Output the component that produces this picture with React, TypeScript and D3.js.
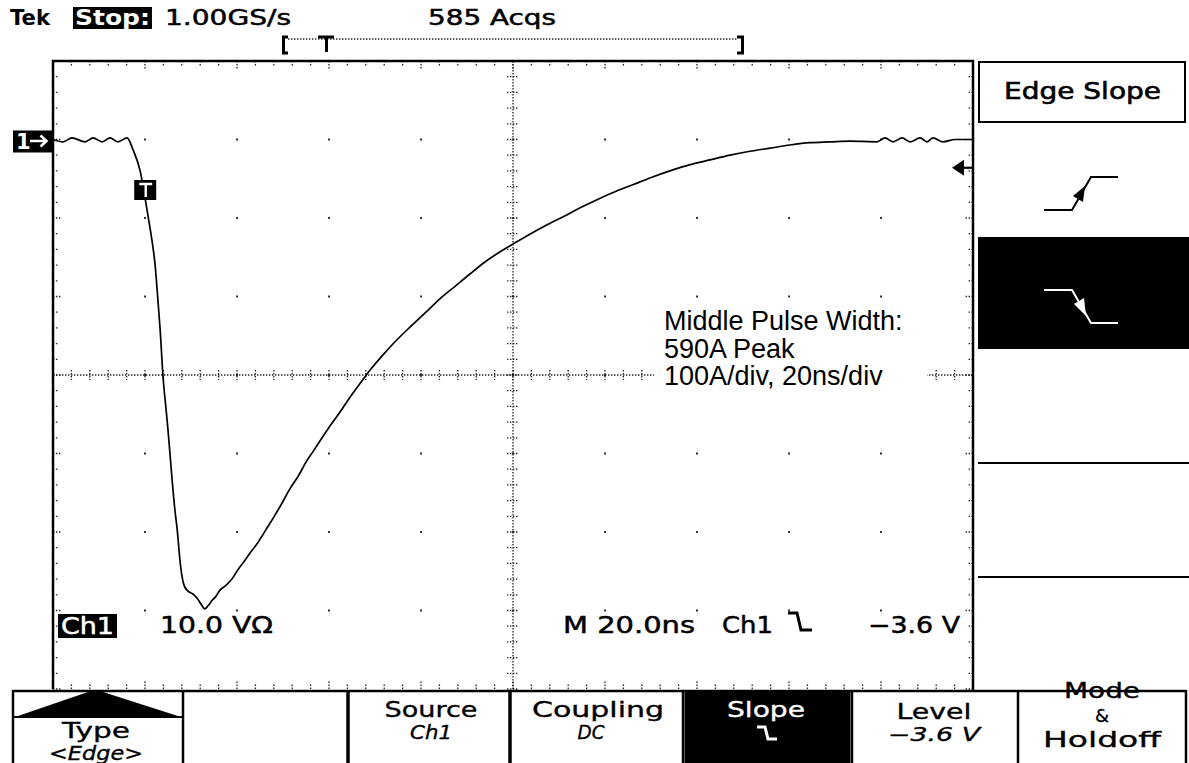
import React from "react";
import * as d3 from "d3";

// ---- Data ----
const timeNs = [0, 2.2, 4.1, 7.0, 8.7, 10.7, 12.4, 14.1, 16.1, 17.4, 18.9, 20.7, 21.5, 22.2, 22.8, 23.3, 23.9, 24.6, 25.0, 25.9, 26.5, 27.0, 27.6, 28.0, 28.5, 29.3, 30.4, 31.3, 32.2, 33.0, 33.7, 34.6, 35.4, 36.3, 37.6, 38.9, 40.2, 41.5, 42.8, 44.6, 46.3, 48.0, 49.8, 51.5, 53.3, 55.0, 56.7, 58.5, 60.2, 62.4, 64.6, 66.7, 68.9, 71.5, 74.3, 77.6, 80.9, 84.1, 87.4, 90.7, 93.9, 97.2, 100.0, 103.3, 107.0, 110.7, 114.6, 118.5, 122.4, 126.3, 130.2, 134.1, 138.5, 142.8, 147.2, 151.5, 155.9, 160.2, 164.6, 168.9, 173.3, 179.1, 180.9, 182.6, 184.6, 186.3, 188.5, 190.0, 191.3, 193.5, 196.1, 200];
const currentA = [0, -3, 2, -3, 2, -3, 2, -3, 2, -13, -39, -99, -128, -160, -204, -243, -301, -345, -370, -434, -472, -497, -536, -555, -568, -575, -579, -584, -592, -598, -594, -587, -582, -574, -568, -560, -548, -538, -527, -513, -497, -481, -463, -445, -429, -411, -396, -380, -365, -347, -328, -311, -294, -276, -258, -239, -221, -203, -187, -171, -156, -143, -133, -122, -110, -99, -87, -76, -66, -57, -48, -40, -32, -26, -20, -15, -11, -7, -4, -3, -2, -3, 2, -3, 2, -3, 2, -3, 2, -3, 0, 0];

const timeDomain = [0, 200]; // ns, 20 ns/div
const currentDomain = [-700, 100]; // A, 100 A/div
const triggerLevelA = -36; // -3.6 V at 10 V/div -> 0.36 div
const triggerTimeNs = 20.7;

const headerTexts = ["Tek", "Stop:", "1.00GS/s", "585 Acqs"];
const annotationLines = ["Middle Pulse Width:", "590A Peak", "100A/div, 20ns/div"];
const menuTop = ["Type", "", "Source", "Coupling", "Slope", "Level", "Mode"];
const menuBottom = ["<Edge>", "", "Ch1", "DC", "", "\u22123.6 V", "Holdoff"];

const W = 1189;
const H = 763;
const L = 53, R = 973, T = 61, B = 689;
const tek = "'DejaVu Sans', sans-serif";

export default function App() {
  const x = d3.scaleLinear().domain(timeDomain).range([L, R]);
  const y = d3.scaleLinear().domain(currentDomain).range([B, T]);
  const pts = timeNs.map((t, i) => [t, currentA[i]] as [number, number]);
  const line = d3.line<[number, number]>().x(d => x(d[0])).y(d => y(d[1])).curve(d3.curveMonotoneX);

  const majX = d3.range(timeDomain[0], timeDomain[1] + 0.01, 20);
  const minX = d3.range(timeDomain[0], timeDomain[1] + 0.01, 4);
  const majY = d3.range(currentDomain[0], currentDomain[1] + 0.01, 100);
  const minY = d3.range(currentDomain[0], currentDomain[1] + 0.01, 20);
  const cx = x(100);
  const cy = y(-300);
  const dot = { stroke: "#222", strokeWidth: 1.3, strokeDasharray: "1.4 1.6" } as any;

  const y0 = y(0);
  const yTrig = y(triggerLevelA);
  const xT = x(triggerTimeNs);

  const menuEdges = [13, 183, 348, 510, 683, 852, 1018, 1186];
  const mt = { fontFamily: tek, stroke: "#000", strokeWidth: 0.35, lengthAdjust: "spacingAndGlyphs", textAnchor: "middle" } as any;

  return (
    <svg width={W} height={H} style={{ position: "absolute", left: 0, top: 0, background: "#fff" }}>
      <rect x={0} y={0} width={W} height={H} fill="#fff" />
      {/* Header */}
      <text x={10} y={25} fontFamily={tek} fontSize={21} fontWeight="bold" textLength={40} lengthAdjust="spacingAndGlyphs">{headerTexts[0]}</text>
      <rect x={73} y={7} width={79} height={22} fill="#000" />
      <text x={75} y={25} fontFamily={tek} fontSize={21} fontWeight="bold" fill="#fff" textLength={75} lengthAdjust="spacingAndGlyphs">{headerTexts[1]}</text>
      <text x={165} y={25} fontFamily={tek} fontSize={21} textLength={126} lengthAdjust="spacingAndGlyphs" stroke="#000" strokeWidth={0.5}>{headerTexts[2]}</text>
      <text x={428} y={25} fontFamily={tek} fontSize={21} textLength={128} lengthAdjust="spacingAndGlyphs" stroke="#000" strokeWidth={0.5}>{headerTexts[3]}</text>

      {/* record bracket */}
      <path d="M288,37 H283.5 V53 H288" fill="none" stroke="#000" strokeWidth={3} />
      <path d="M737,37 H742.5 V53 H737" fill="none" stroke="#000" strokeWidth={3} />
      <line x1={288} x2={737} y1={39} y2={39} {...dot} />
      <path d="M318,37 H334 M326.5,36 V52" fill="none" stroke="#000" strokeWidth={3} />

      {/* Grid: interior major dots */}
      {majX.slice(1, -1).map(tx => majY.slice(1, -1).map(ty => (
        <rect key={`d${tx}_${ty}`} x={x(tx) - 1} y={y(ty) - 1} width={2} height={2} fill="#333" />
      )))}
      {/* center cross */}
      <line x1={L} x2={R} y1={cy} y2={cy} {...dot} />
      <line x1={cx} x2={cx} y1={T} y2={B} {...dot} />
      {minX.map(tx => <line key={`cxm${tx}`} x1={x(tx)} x2={x(tx)} y1={cy - 5} y2={cy + 5} {...dot} />)}
      {minY.map(ty => <line key={`cym${ty}`} y1={y(ty)} y2={y(ty)} x1={cx - 6} x2={cx + 6} {...dot} />)}
      {/* border ticks */}
      {minX.map(tx => {
        const major = Math.abs((tx % 20)) < 0.01;
        const len = major ? 8 : 5;
        return (
          <g key={`bx${tx}`}>
            <line x1={x(tx)} x2={x(tx)} y1={T} y2={T + len} {...dot} />
            <line x1={x(tx)} x2={x(tx)} y1={B} y2={B - len} {...dot} />
          </g>
        );
      })}
      {minY.map(ty => {
        const major = Math.abs((ty % 100)) < 0.01;
        const len = major ? 9 : 6;
        return (
          <g key={`by${ty}`}>
            <line y1={y(ty)} y2={y(ty)} x1={L} x2={L + len} {...dot} />
            <line y1={y(ty)} y2={y(ty)} x1={R} x2={R - len} {...dot} />
          </g>
        );
      })}

      {/* annotation box hides grid */}
      <rect x={654} y={301} width={273} height={92} fill="#fff" />
      {annotationLines.map((s, i) => (
        <text key={s} x={664} y={330 + i * 27.5} fontFamily="'Liberation Sans', Arial, sans-serif" fontSize={27}>{s}</text>
      ))}

      {/* waveform */}
      <path d={line(pts) || ""} fill="none" stroke="#000" strokeWidth={1.7} strokeLinejoin="round" />

      {/* border */}
      <path d={`M${L},${B} V${T} H${R} V${B + 1}`} fill="none" stroke="#000" strokeWidth={2.5} />

      {/* ground marker */}
      <rect x={13} y={y0 - 9} width={40} height={22} fill="#000" />
      <text x={16} y={y0 + 9} fontFamily={tek} fontSize={21} fontWeight="bold" fill="#fff">1</text>
      <path d={`M30,${y0 + 1.5} H46 M40.5,${y0 - 4} L46.5,${y0 + 1.5} L40.5,${y0 + 7}`} fill="none" stroke="#fff" strokeWidth={2.6} />

      {/* trigger marker on waveform */}
      <rect x={xT - 14} y={180} width={22} height={20} fill="#000" />
      <path d={`M${xT - 9},184 H${xT + 4} M${xT - 2.5},184 V197`} fill="none" stroke="#fff" strokeWidth={2.4} />

      {/* trigger level arrow */}
      <path d={`M${R - 21},${yTrig} L${R - 9},${yTrig - 8} L${R - 9},${yTrig + 8} Z`} fill="#000" />
      <line x1={R - 10} x2={R} y1={yTrig} y2={yTrig} stroke="#000" strokeWidth={2.2} />

      {/* bottom readouts */}
      <rect x={58} y={614} width={59} height={24} fill="#000" />
      <text x={61} y={634} fontFamily={tek} fontSize={23} fill="#fff" textLength={53} lengthAdjust="spacingAndGlyphs" stroke="#fff" strokeWidth={0.5}>Ch1</text>
      <text x={160} y={633} fontFamily={tek} fontSize={23} textLength={113} lengthAdjust="spacingAndGlyphs" stroke="#000" strokeWidth={0.5}>10.0 V{"\u03a9"}</text>
      <text x={563} y={633} fontFamily={tek} fontSize={23} textLength={132} lengthAdjust="spacingAndGlyphs" stroke="#000" strokeWidth={0.5}>M 20.0ns</text>
      <text x={722} y={633} fontFamily={tek} fontSize={23} textLength={51} lengthAdjust="spacingAndGlyphs" stroke="#000" strokeWidth={0.5}>Ch1</text>
      <path d="M788,613 H797 L801,630 H812" fill="none" stroke="#000" strokeWidth={3} />
      <text x={868} y={633} fontFamily={tek} fontSize={23} textLength={92} lengthAdjust="spacingAndGlyphs" stroke="#000" strokeWidth={0.5}>{"\u22123.6 V"}</text>

      {/* right side menu */}
      <rect x={979} y={62} width={206} height={60} fill="#fff" stroke="#000" strokeWidth={2} />
      <text x={1004} y={99} fontFamily={tek} fontSize={23} textLength={157} lengthAdjust="spacingAndGlyphs" stroke="#000" strokeWidth={0.6}>Edge Slope</text>
      <path d="M1044,210 H1072 L1091,177 H1118" fill="none" stroke="#000" strokeWidth={2} />
      <path d="M1085,186 L1083,202 L1073,196 Z" fill="#000" />
      <rect x={978} y={237} width={211} height={112} fill="#000" />
      <path d="M1044,290 H1072 L1091,323 H1118" fill="none" stroke="#fff" strokeWidth={2} />
      <path d="M1086,316 L1074,304 L1084,298 Z" fill="#fff" />
      <line x1={978} x2={W} y1={463} y2={463} stroke="#000" strokeWidth={2} />
      <line x1={978} x2={W} y1={577} y2={577} stroke="#000" strokeWidth={2} />

      {/* bottom menu */}
      <rect x={684} y={691} width={167} height={80} fill="#000" stroke="#aaa" strokeWidth={1.5} />
      {menuEdges.map((e, i) => (
        <line key={`me${i}`} x1={e} x2={e} y1={690} y2={H} stroke="#000" strokeWidth={i === 2 || i === 3 ? 3.5 : 2.5} />
      ))}
      <path d="M15,717 L88,692 H103 L181,717 Z" fill="#000" />
      <line x1={14} x2={182} y1={717} y2={717} stroke="#000" strokeWidth={2} />
      <text {...mt} x={96} y={738} fontSize={22} textLength={68}>{menuTop[0]}</text>
      <text {...mt} x={96} y={760} fontSize={19} fontStyle="italic" textLength={94}>{menuBottom[0]}</text>
      <text {...mt} x={431} y={717} fontSize={21} textLength={93}>{menuTop[2]}</text>
      <text {...mt} x={431} y={739} fontSize={19} fontStyle="italic" textLength={42}>{menuBottom[2]}</text>
      <text {...mt} x={598} y={717} fontSize={21} textLength={132}>{menuTop[3]}</text>
      <text {...mt} x={591} y={739} fontSize={19} fontStyle="italic" textLength={27}>{menuBottom[3]}</text>
      <text {...mt} x={766} y={717} fontSize={21} fill="#fff" stroke="#fff" textLength={78}>{menuTop[4]}</text>
      <path d="M757,727 H765 L768,739 H777" fill="none" stroke="#fff" strokeWidth={3} />
      <text {...mt} x={934} y={719} fontSize={21} textLength={75}>{menuTop[5]}</text>
      <text {...mt} x={934} y={741} fontSize={19} fontStyle="italic" textLength={92}>{menuBottom[5]}</text>
      <text {...mt} x={1102} y={698} fontSize={21} textLength={76}>{menuTop[6]}</text>
      <text {...mt} x={1102} y={722} fontSize={18}>&amp;</text>
      <text {...mt} x={1102} y={747} fontSize={22} textLength={118}>{menuBottom[6]}</text>
      <line x1={13} x2={1186} y1={691} y2={691} stroke="#000" strokeWidth={2.5} />
    </svg>
  );
}
